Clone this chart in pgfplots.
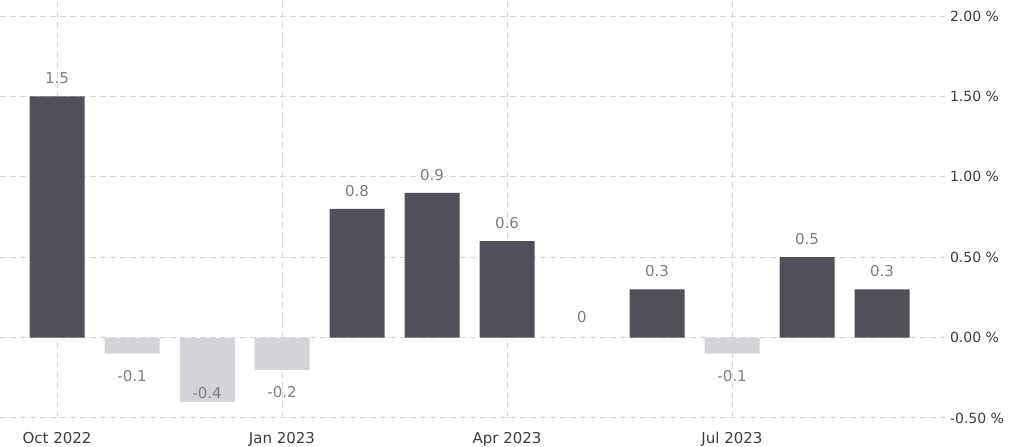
\documentclass[border=0pt]{standalone}
\usepackage{pgfplots}
\pgfplotsset{compat=1.18}
\usepackage{fontspec}
\setmainfont{DejaVu Sans}
\definecolor{barpos}{HTML}{4E5158}
\definecolor{barneg}{HTML}{D4D4D8}
\definecolor{lbl}{HTML}{7E7E7E}
\definecolor{tickc}{HTML}{3C3C3C}
\definecolor{gridc}{HTML}{D6D6D6}

\begin{document}
\begin{tikzpicture}
\begin{axis}[
  scale only axis, width=472.5pt, height=209pt,
  xmin=-0.76, xmax=11.84, ymin=-0.5, ymax=2.1,
  ybar, bar width=27.5pt,
  axis line style={draw=none}, tick style={draw=none},
  xtick={0,3,6,9},
  xticklabels={Oct 2022,Jan 2023,Apr 2023,Jul 2023},
  ytick={-0.5,0,0.5,1,1.5,2},
  yticklabel pos=right,
  yticklabel={\pgfmathprintnumber[fixed,zerofill,precision=2,assume math mode=true]{\tick}~\%},
  yticklabel style={font=\fontsize{7}{8}\selectfont, text=tickc, anchor=west, xshift=-1pt},
  xticklabel style={font=\fontsize{7.5}{9}\selectfont, text=tickc, yshift=0.5pt},
  grid=major, major grid style={gridc, dash pattern=on 3pt off 2pt, line width=0.5pt},
  nodes near coords={\pgfmathprintnumber[assume math mode=true]{\pgfplotspointmeta}},
  nodes near coords style={font=\fontsize{7.5}{9}\selectfont, text=lbl, anchor=center},
]
% rises
\addplot[fill=barpos, draw=none, bar shift=0pt, nodes near coords style={yshift=9pt}]
  coordinates {(0,1.5) (4,0.8) (5,0.9) (6,0.6) (8,0.3) (10,0.5) (11,0.3)};
% falls
\addplot[fill=barneg, draw=none, bar shift=0pt, nodes near coords style={yshift=-11pt}]
  coordinates {(1,-0.1) (3,-0.2) (9,-0.1)};
\addplot[fill=barneg, draw=none, bar shift=0pt, nodes near coords style={yshift=4.5pt}]
  coordinates {(2,-0.4)};
% no change
\addplot[fill=none, draw=none, bar shift=0pt, nodes near coords style={yshift=10.5pt}]
  coordinates {(7,0)};
\coordinate (bbsw) at (rel axis cs:0,0);
\coordinate (bbne) at (rel axis cs:1,1);
\end{axis}
\pgfresetboundingbox
\path ([yshift=-14.5pt]bbsw) rectangle ([xshift=35pt]bbne);
\end{tikzpicture}
\end{document}
